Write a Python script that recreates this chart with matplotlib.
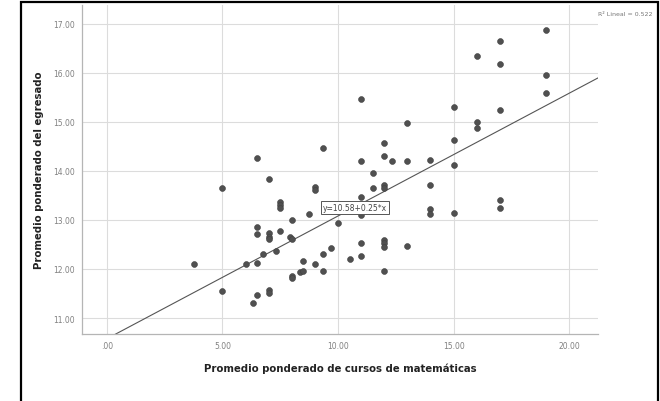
import numpy as np
import matplotlib
matplotlib.use("Agg")
import matplotlib.pyplot as plt
from matplotlib.patches import Rectangle

# Promedio ponderado de cursos de matematicas (x) vs promedio del egresado (y)
math_avg = [
    3.75, 5.0, 5.0, 6.0, 6.5, 6.5, 6.5, 6.5, 6.5, 6.3,
    6.75, 7.0, 7.0, 7.0, 7.0, 7.0, 7.0, 7.3, 7.5, 7.5,
    7.5, 7.5, 7.9, 8.0, 8.0, 8.0, 8.0, 8.35, 8.5, 8.5,
    8.75, 9.0, 9.0, 9.0, 9.33, 9.33, 9.33, 9.7, 10.0, 10.5,
    11.0, 11.0, 11.0, 11.0, 11.0, 11.0, 11.5, 11.5, 12.0, 12.0,
    12.0, 12.0, 12.0, 12.0, 12.0, 12.0, 12.35, 13.0, 13.0, 13.0,
    14.0, 14.0, 14.0, 14.0, 15.0, 15.0, 15.0, 15.0, 16.0, 16.0,
    16.0, 17.0, 17.0, 17.0, 17.0, 17.0, 19.0, 19.0, 19.0,
]
grad_avg = [
    12.10, 13.66, 11.55, 12.11, 14.26, 12.85, 12.71, 12.13, 11.46, 11.30,
    12.31, 13.84, 12.73, 12.66, 12.61, 11.57, 11.51, 12.36, 13.37, 13.30,
    13.24, 12.77, 12.66, 12.61, 13.00, 11.86, 11.81, 11.93, 11.96, 12.17,
    13.13, 13.67, 13.60, 12.10, 14.46, 12.31, 11.95, 12.42, 12.93, 12.21,
    15.47, 14.20, 13.47, 13.09, 12.53, 12.26, 13.96, 13.66, 14.57, 14.31,
    13.71, 13.66, 12.60, 12.53, 12.45, 11.96, 14.19, 14.98, 14.20, 12.47,
    14.22, 13.72, 13.22, 13.13, 15.30, 14.63, 14.12, 13.15, 16.34, 14.99,
    14.87, 16.65, 16.17, 15.24, 13.41, 13.24, 16.87, 15.96, 15.58,
]

x_ticks = [0, 5, 10, 15, 20]
x_tick_labels = [".00", "5.00", "10.00", "15.00", "20.00"]
y_ticks = [11, 12, 13, 14, 15, 16, 17]

intercept = 10.58
slope = 0.25
r2_label = "R² Lineal = 0.522"
eq_label = "y=10.58+0.25*x"

fig = plt.figure(figsize=(6.6, 4.02), dpi=100)
ax = fig.add_axes([0.1242, 0.1667, 0.9061 - 0.1242, 0.985 - 0.1667])

xlim = (-1.08, 21.25)
ylim = (10.676, 17.377)
ax.set_xlim(*xlim)
ax.set_ylim(*ylim)

ax.set_xticks(x_ticks)
ax.set_xticklabels(x_tick_labels)
ax.set_yticks(y_ticks)
ax.set_yticklabels([f"{v:.2f}" for v in y_ticks])
ax.tick_params(length=0, labelsize=5.5, labelcolor="#808080", pad=5)

ax.grid(True, color="#dcdcdc", linewidth=0.8)
ax.set_axisbelow(True)
for side in ["top", "right"]:
    ax.spines[side].set_visible(False)
for side in ["left", "bottom"]:
    ax.spines[side].set_color("#b5b5b5")
    ax.spines[side].set_linewidth(0.9)

ax.scatter(math_avg, grad_avg, s=18, color="#505050", edgecolors="#404040",
           linewidths=0.4, zorder=3)

# fit line
xs = np.array(xlim)
ax.plot(xs, intercept + slope * xs, color="#555555", linewidth=0.8, zorder=2)

ax.text(10.74, 13.26, eq_label, fontsize=5.5, color="#444444",
        ha="center", va="center", zorder=4,
        bbox=dict(boxstyle="square,pad=0.25", facecolor="white",
                  edgecolor="#555555", linewidth=0.7))

ax.set_xlabel("Promedio ponderado de cursos de matemáticas", fontsize=7.3,
              fontweight="bold", color="#222222", labelpad=9)
ax.set_ylabel("Promedio ponderado del egresado", fontsize=7.3,
              fontweight="bold", color="#222222", labelpad=7)

fig.text(598 / 660, 1 - 14 / 402, r2_label, fontsize=4.5, color="#777777",
         ha="left", va="center")

# outer frame
fig.patches.append(Rectangle((21 / 660, -0.01), (658 - 21) / 660, 1 - 3 / 402 + 0.01,
                             transform=fig.transFigure, fill=False,
                             edgecolor="black", linewidth=1.6))

fig.savefig("out.png", dpi=100)
